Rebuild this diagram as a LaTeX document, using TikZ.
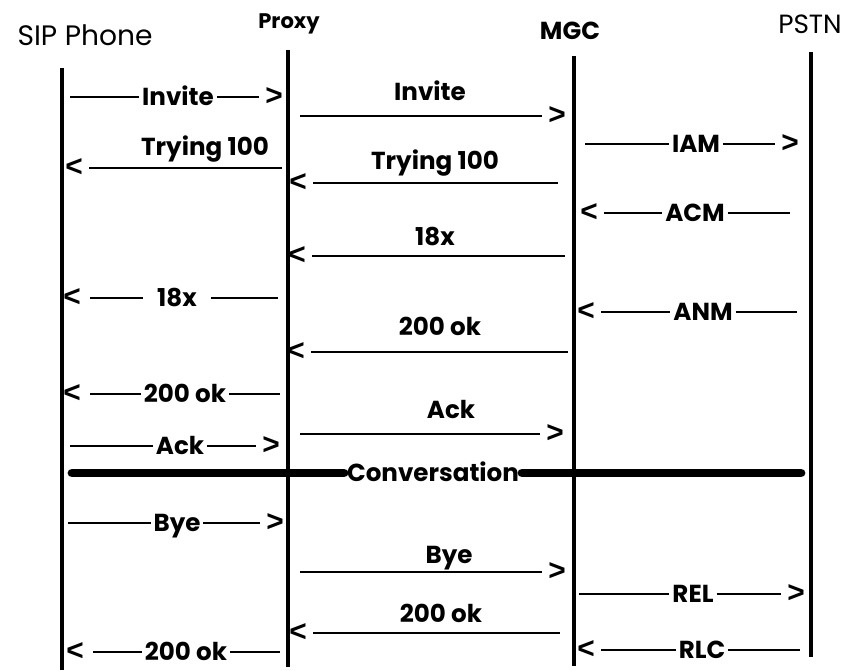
\documentclass[tikz,border=0pt]{standalone}
\usepackage{fontspec}
\setmainfont{Poppins}
\newfontfamily\tipfont{Liberation Sans}
\usepackage{tikz}
\usetikzlibrary{positioning}

\begin{document}
\begin{tikzpicture}[x=0.02cm,y=-0.02cm,
  life/.style={line width=1.8pt},
  msg/.style={line width=1.6pt},
  lbl/.style={font=\bfseries\fontsize{14}{16}\selectfont,inner xsep=1.5pt,inner ysep=0pt,text height=10pt,text depth=0pt},
  tipnode/.style={font=\tipfont\bfseries\fontsize{17}{18}\selectfont,inner xsep=3.5pt,inner ysep=0pt},
  actor/.style={font=\fontsize{16}{18}\selectfont}]
\useasboundingbox (0,0) rectangle (842,670);
% actors and lifelines
\node[actor] (sip) at (85,35) {SIP Phone};
\node[actor,font=\bfseries\fontsize{12}{14}\selectfont] (proxy) at (289,24) {Proxy};
\node[actor,font=\bfseries\fontsize{14}{16}\selectfont] (mgc) at (570,31) {MGC};
\node[actor,font=\fontsize{15}{18}\selectfont] (pstn) at (810,24) {PSTN};
\coordinate (sipT) at (62,68);   \coordinate (sipB) at (62,670);
\coordinate (proxyT) at (288,50); \coordinate (proxyB) at (288,667);
\coordinate (mgcT) at (574,56);  \coordinate (mgcB) at (574,666);
\coordinate (pstnT) at (811,52); \coordinate (pstnB) at (811,657);
\draw[life] (sipT) -- (sipB);
\draw[life] (proxyT) -- (proxyB);
\draw[life] (mgcT) -- (mgcB);
\draw[life] (pstnT) -- (pstnB);
% Invite
\coordinate (inv1s) at (70,97);
\node[lbl] (inv1) at (178,97) {Invite};
\node[tipnode] (inv1h) at (274,97) {>};
\draw[msg] (inv1s) -- (inv1) -- (inv1h);
\node[lbl] (inv2) at (430,92) {Invite};
\coordinate (inv2s) at (300,116);
\node[tipnode] (inv2h) at (557,116) {>};
\draw[msg] (inv2s) -- (inv2h);
% Trying 100
\node[lbl] (try1) at (205,147) {Trying 100};
\node[tipnode] (try1h) at (74,168) {<};
\coordinate (try1e) at (282,168);
\draw[msg] (try1h) -- (try1e);
\node[lbl] (try2) at (435,161) {Trying 100};
\node[tipnode] (try2h) at (298,183) {<};
\coordinate (try2e) at (558,183);
\draw[msg] (try2h) -- (try2e);
% IAM / ACM
\coordinate (iams) at (585,144);
\node[lbl] (iam) at (696,144) {IAM};
\node[tipnode] (iamh) at (790,144) {>};
\draw[msg] (iams) -- (iam) -- (iamh);
\node[tipnode] (acmh) at (589,213) {<};
\node[lbl] (acm) at (695,213) {ACM};
\coordinate (acme) at (790,213);
\draw[msg] (acmh) -- (acm) -- (acme);
% 18x
\node[lbl] (ring2) at (435,237) {18x};
\node[tipnode] (ring2h) at (297,256) {<};
\coordinate (ring2e) at (565,256);
\draw[msg] (ring2h) -- (ring2e);
\node[tipnode,inner xsep=5pt] (ring1h) at (72,298) {<};
\node[lbl,inner xsep=8pt] (ring1) at (177,298) {18x};
\coordinate (ring1e) at (278,298);
\draw[msg] (ring1h) -- (ring1) -- (ring1e);
% ANM
\node[tipnode] (anmh) at (586,312) {<};
\node[lbl] (anm) at (703,312) {ANM};
\coordinate (anme) at (797,312);
\draw[msg] (anmh) -- (anm) -- (anme);
% 200 ok
\node[lbl] (ok2) at (440,327) {200 ok};
\node[tipnode] (ok2h) at (296,352) {<};
\coordinate (ok2e) at (568,352);
\draw[msg] (ok2h) -- (ok2e);
\node[tipnode,inner xsep=5pt] (ok1h) at (72,394) {<};
\node[lbl] (ok1) at (185,394) {200 ok};
\coordinate (ok1e) at (280,394);
\draw[msg] (ok1h) -- (ok1) -- (ok1e);
% Ack
\node[lbl] (ack2) at (451,410) {Ack};
\coordinate (ack2s) at (300,434);
\node[tipnode] (ack2h) at (555,434) {>};
\draw[msg] (ack2s) -- (ack2h);
\coordinate (ack1s) at (70,446);
\node[lbl] (ack1) at (180,446) {Ack};
\node[tipnode] (ack1h) at (271,446) {>};
\draw[msg] (ack1s) -- (ack1) -- (ack1h);
% Conversation
\coordinate (convs) at (72,473);
\node[lbl] (conv) at (433,473) {Conversation};
\coordinate (conve) at (801,473);
\draw[line width=5pt,line cap=round] (convs) -- (conv) -- (conve);
% Bye
\coordinate (bye1s) at (68,523);
\node[lbl] (bye1) at (177,523) {Bye};
\node[tipnode] (bye1h) at (275,523) {>};
\draw[msg] (bye1s) -- (bye1) -- (bye1h);
\node[lbl] (bye2) at (449,555) {Bye};
\coordinate (bye2s) at (300,572);
\node[tipnode] (bye2h) at (557,572) {>};
\draw[msg] (bye2s) -- (bye2h);
% REL / RLC
\coordinate (rels) at (579,594);
\node[lbl] (rel) at (693,594) {REL};
\node[tipnode] (relh) at (796,594) {>};
\draw[msg] (rels) -- (rel) -- (relh);
\node[tipnode] (rlch) at (586,650) {<};
\node[lbl] (rlc) at (702,650) {RLC};
\coordinate (rlce) at (800,650);
\draw[msg] (rlch) -- (rlc) -- (rlce);
% 200 ok (release)
\node[lbl] (ok4) at (441,614) {200 ok};
\node[tipnode] (ok4h) at (298,633) {<};
\coordinate (ok4e) at (560,633);
\draw[msg] (ok4h) -- (ok4e);
\node[tipnode,inner xsep=5pt] (ok3h) at (75,652) {<};
\node[lbl] (ok3) at (186,652) {200 ok};
\coordinate (ok3e) at (280,652);
\draw[msg] (ok3h) -- (ok3) -- (ok3e);
\end{tikzpicture}
\end{document}
